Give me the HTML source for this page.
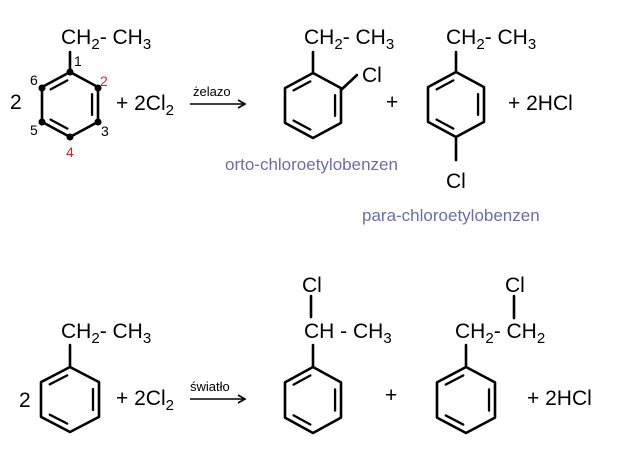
<!DOCTYPE html>
<html><head><meta charset="utf-8"><style>
html,body{margin:0;padding:0;background:#fff;}
svg{display:block;}
text{font-family:"Liberation Sans",sans-serif;fill:#000;}
.t{font-size:21px;}
.s{font-size:15px;}
.n{font-size:14px;}
.p{font-size:17px;fill:#6b6ea8;}
</style></head><body>
<svg id="g" width="627" height="463" viewBox="0 0 627 463" xmlns="http://www.w3.org/2000/svg">
<g stroke="#000" stroke-width="2.6" fill="none" stroke-linecap="round" id="lines">
<line x1="70" y1="52" x2="70" y2="72"/>
<line x1="313" y1="52" x2="313" y2="73"/>
<line x1="341" y1="90" x2="357" y2="75"/>
<line x1="456" y1="52" x2="456" y2="72"/>
<line x1="456" y1="137" x2="456" y2="160"/>
<line x1="70" y1="345" x2="70" y2="367"/>
<line x1="313" y1="345" x2="313" y2="367"/>
<line x1="311" y1="296" x2="311" y2="317"/>
<line x1="466" y1="345" x2="466" y2="367"/>
<line x1="514" y1="296" x2="514" y2="318"/>
</g>
<g stroke="#000" stroke-width="1.6">
<line x1="190" y1="104" x2="244" y2="104"/>
<line x1="190" y1="399" x2="244" y2="399"/>
</g>
<polyline points="238,100 245,104 238,108" fill="none" stroke="#000" stroke-width="1.6"/>
<polyline points="238,395 245,399 238,403" fill="none" stroke="#000" stroke-width="1.6"/>
<g fill="#000">
<circle cx="70" cy="72" r="3.5"/><circle cx="98" cy="88" r="3.5"/><circle cx="98" cy="122" r="3.5"/>
<circle cx="70" cy="137" r="3.5"/><circle cx="42" cy="122" r="3.5"/><circle cx="42" cy="88" r="3.5"/>
</g>
<text class="t" x="61" y="44">CH<tspan class="s" dy="5">2</tspan><tspan dy="-5">- CH</tspan><tspan class="s" dy="5">3</tspan></text>
<text class="n" x="74" y="66">1</text>
<text class="n" x="100" y="86" style="fill:#e02020">2</text>
<text class="n" x="101" y="136">3</text>
<text class="n" x="66" y="157" style="fill:#e02020">4</text>
<text class="n" x="30" y="135">5</text>
<text class="n" x="30" y="85">6</text>
<text class="t" x="10" y="109">2</text>
<text class="t" x="116" y="110">+ 2Cl<tspan class="s" dy="5">2</tspan></text>
<text x="193" y="96" style="font-size:13px">żelazo</text>
<text class="t" x="304" y="44">CH<tspan class="s" dy="5">2</tspan><tspan dy="-5">- CH</tspan><tspan class="s" dy="5">3</tspan></text>
<text class="t" x="362" y="82">Cl</text>
<text class="t" x="386" y="109">+</text>
<text class="t" x="446" y="44">CH<tspan class="s" dy="5">2</tspan><tspan dy="-5">- CH</tspan><tspan class="s" dy="5">3</tspan></text>
<text class="t" x="446" y="188">Cl</text>
<text class="t" x="508" y="110">+ 2HCl</text>
<text class="p" x="225" y="170">orto-chloroetylobenzen</text>
<text class="p" x="362" y="221">para-chloroetylobenzen</text>
<text class="t" x="61" y="338">CH<tspan class="s" dy="5">2</tspan><tspan dy="-5">- CH</tspan><tspan class="s" dy="5">3</tspan></text>
<text class="t" x="19" y="407">2</text>
<text class="t" x="116" y="405">+ 2Cl<tspan class="s" dy="5">2</tspan></text>
<text x="190" y="391" style="font-size:13px">światło</text>
<text class="t" x="302" y="292">Cl</text>
<text class="t" x="304" y="338">CH - CH<tspan class="s" dy="5">3</tspan></text>
<text class="t" x="385" y="402">+</text>
<text class="t" x="505" y="292">Cl</text>
<text class="t" x="455" y="338">CH<tspan class="s" dy="5">2</tspan><tspan dy="-5">- CH</tspan><tspan class="s" dy="5">2</tspan></text>
<text class="t" x="527" y="405">+ 2HCl</text>
</svg>
<script>
(function(){
var g=document.getElementById('lines');
function ring(cx,top,bot,w){
 var h=bot-top, q=h/4.3;
 var P=[[cx,top],[cx+w,top+q],[cx+w,bot-q],[cx,bot],[cx-w,bot-q],[cx-w,top+q]];
 var cy=(top+bot)/2, d='M'+P.map(function(p){return p.join(',')}).join('L')+'Z';
 var e=document.createElementNS('http://www.w3.org/2000/svg','path');
 e.setAttribute('d',d);e.setAttribute('stroke-linejoin','round');g.appendChild(e);
 [[5,0],[1,2],[3,4]].forEach(function(ix){
  var a=P[ix[0]],b=P[ix[1]];
  function inn(p){var dx=cx-p[0],dy=cy-p[1],L=Math.hypot(dx,dy);return [p[0]+dx/L*7,p[1]+dy/L*7];}
  var A=inn(a),B=inn(b);
  var mx=B[0]-A[0],my=B[1]-A[1];
  var l=document.createElementNS('http://www.w3.org/2000/svg','line');
  l.setAttribute('x1',A[0]+mx*0.12);l.setAttribute('y1',A[1]+my*0.12);
  l.setAttribute('x2',B[0]-mx*0.12);l.setAttribute('y2',B[1]-my*0.12);
  l.setAttribute('stroke-width','2.3');
  g.appendChild(l);
 });
}
ring(70,72,137,28);
ring(313,73,138,28);
ring(456,72,137,28);
ring(70,367,432,29);
ring(313,367,433,28);
ring(466,367,433,29);
})();
</script>
</body></html>
